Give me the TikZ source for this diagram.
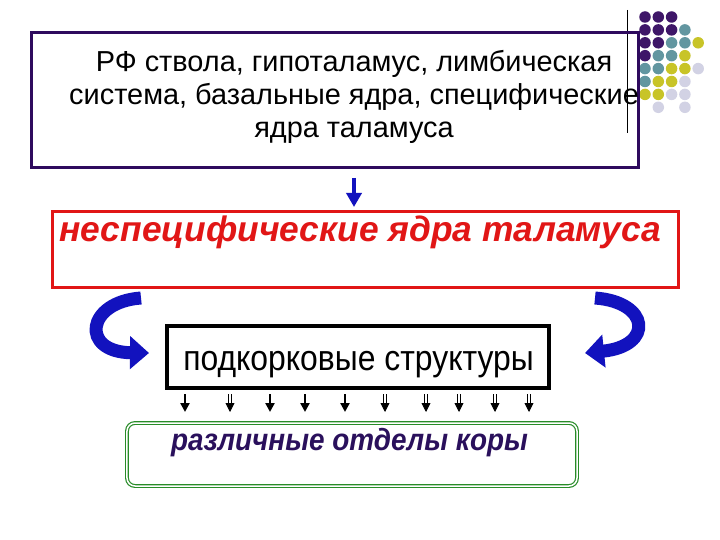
\documentclass[tikz,border=0pt]{standalone}
\usepackage{fontspec}
\setmainfont{Liberation Sans}
\usetikzlibrary{arrows.meta}
\usetikzlibrary{positioning}
\definecolor{framepurple}{RGB}{46,10,94}
\definecolor{dotpurple}{RGB}{62,22,104}
\definecolor{dotteal}{RGB}{98,150,160}
\definecolor{dotyellow}{RGB}{200,196,40}
\definecolor{dotlilac}{RGB}{210,210,228}
\definecolor{arrowblue}{RGB}{18,18,190}
\definecolor{boxred}{RGB}{225,22,22}
\definecolor{boxgreen}{RGB}{40,140,40}
\definecolor{textindigo}{RGB}{42,16,92}
\tikzset{basic/.style={draw,inner sep=0pt,outer sep=0pt}}
\tikzset{dot/.style={circle,inner sep=0pt,minimum size=11.5bp}}

\begin{document}
\begin{tikzpicture}[x=1bp, y=-1bp]
    \tikzstyle{plain}=[font=\fontsize{29}{33.5}\selectfont, align=center]
    \tikzstyle{loud}=[font=\fontsize{35.5}{40}\selectfont\bfseries\itshape]
    \tikzstyle{feed}=[arrowblue, line width=13bp, -{Triangle[width=32bp,length=19bp]}]
    \tikzstyle{arrthick}=[line width=2.6bp, -{Triangle[width=9bp,length=9bp]}]
    \tikzstyle{arrdouble}=[double=white, double distance=1.3bp, line width=0.9bp, -{Triangle[width=9bp,length=9bp]}]

    \fill[white] (0,0) rectangle (720,540);
    \useasboundingbox (0,0) rectangle (720,540);

    % Draw the corner decoration
    \draw[line width=1bp] (627,10) -- (627,133);
    \foreach \row / \col / \clr in {0/0/dotpurple,0/1/dotpurple,0/2/dotpurple,
        1/0/dotpurple,1/1/dotpurple,1/2/dotpurple,1/3/dotteal,
        2/0/dotpurple,2/1/dotpurple,2/2/dotteal,2/3/dotteal,2/4/dotyellow,
        3/0/dotpurple,3/1/dotteal,3/2/dotteal,3/3/dotyellow,
        4/0/dotteal,4/1/dotteal,4/2/dotyellow,4/3/dotyellow,4/4/dotlilac,
        5/0/dotteal,5/1/dotyellow,5/2/dotyellow,5/3/dotlilac,
        6/0/dotyellow,6/1/dotyellow,6/2/dotlilac,6/3/dotlilac,
        7/1/dotlilac,7/3/dotlilac}
        \node[dot, fill=\clr] (dot-\row-\col) at ({645+13.3*\col},{17+12.9*\row}) {};

    % Draw the boxes
    \node[basic, draw=framepurple, line width=3bp, minimum width=606bp, minimum height=135bp] (src) at (335,100.5) {};
    \node[plain] (src-text) at (354,97) {РФ ствола, гипоталамус, лимбическая\\система, базальные ядра, специфические\\ядра таламуса};

    \node[basic, draw=boxred, line width=3bp, minimum width=625bp, minimum height=75bp] (thal) at (365.5,249.5) {};
    \node[loud, text=boxred, anchor=base west] (thal-text) at (56,242) {неспецифические ядра таламуса};

    \node[basic, line width=3.5bp, minimum width=382bp, minimum height=62bp] (sub) at (358,357) {};
    \node[font=\fontsize{32}{36}\selectfont, anchor=base] (sub-text) at (358.5,370)
        {\scalebox{1}[1.12]{подкорковые структуры}};

    \node[basic, draw=boxgreen, double=white, double distance=1.5bp, line width=1.2bp, rounded corners=8bp,
          minimum width=450bp, minimum height=63bp] (cortex) at (352,454.5) {};
    \node[font=\fontsize{28}{32}\selectfont\bfseries\itshape, text=textindigo, anchor=base] (cortex-text) at (349.5,450)
        {\scalebox{1}[1.1]{различные отделы коры}};

    % Connect the top box with the red box
    \draw[arrowblue, line width=4bp, -{Triangle[width=15bp,length=14bp]}, shorten <=10bp, shorten >=5bp]
        (src-text |- src.south) -- (src-text |- thal.north);

    % Curved arrows on both sides
    \coordinate (loop-l-start) at (141,298);
    \coordinate (loop-l-end) at (149,353);
    \coordinate (loop-r-start) at (595,298);
    \coordinate (loop-r-end) at (585,353);
    \draw[feed] (loop-l-start) .. controls (86,302) and (80,352) .. (loop-l-end);
    \draw[feed] (loop-r-start) .. controls (650,302) and (654,346) .. (loop-r-end);

    % Connect the subcortical box with the cortex box
    \foreach \x / \kind in {185/arrthick,230/arrdouble,270/arrthick,305/arrthick,345/arrthick,
                            385/arrdouble,426/arrdouble,459/arrdouble,495/arrdouble,529/arrdouble}
        \draw[\kind, shorten <=6bp, shorten >=11bp] (\x,0 |- sub.south) -- (\x,0 |- cortex.north);
\end{tikzpicture}
\end{document}
